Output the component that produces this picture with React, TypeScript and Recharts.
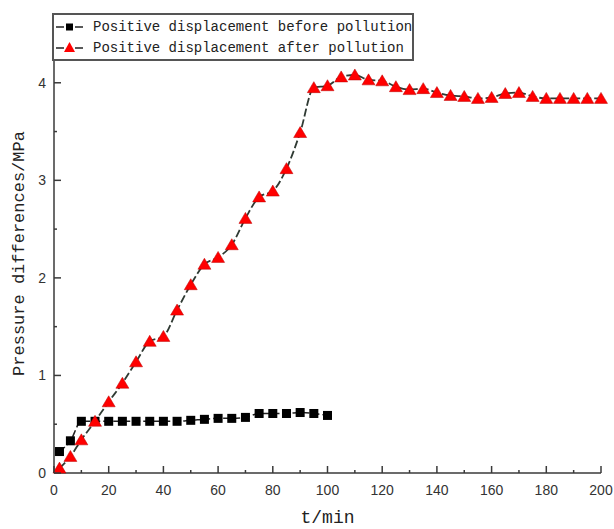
import { LineChart, Line, XAxis, YAxis, Legend } from "recharts";

const beforeTimes = [2, 6, 10, 15, 20, 25, 30, 35, 40, 45, 50, 55, 60, 65, 70, 75, 80, 85, 90, 95, 100];
const beforeValues = [0.22, 0.33, 0.53, 0.53, 0.53, 0.53, 0.53, 0.53, 0.53, 0.53, 0.54, 0.55, 0.56, 0.56, 0.57, 0.61, 0.61, 0.61, 0.62, 0.61, 0.59];

const afterTimes = [
  2, 6, 10, 15, 20, 25, 30, 35, 40, 45, 50, 55, 60, 65, 70, 75, 80, 85, 90, 95, 100,
  105, 110, 115, 120, 125, 130, 135, 140, 145, 150, 155, 160, 165, 170, 175, 180, 185, 190, 195, 200,
];
const afterValues = [
  0.05, 0.17, 0.34, 0.53, 0.73, 0.92, 1.14, 1.35, 1.4, 1.67, 1.93, 2.14, 2.21, 2.34, 2.61, 2.83, 2.89, 3.12, 3.49, 3.95, 3.97,
  4.06, 4.08, 4.03, 4.02, 3.96, 3.93, 3.94, 3.9, 3.87, 3.86, 3.84, 3.85, 3.89, 3.9, 3.86, 3.84, 3.84, 3.84, 3.84, 3.84,
];

const xTicks = [0, 10, 20, 30, 40, 50, 60, 70, 80, 90, 100, 110, 120, 130, 140, 150, 160, 170, 180, 190, 200];
const yTicks = [0, 0.5, 1, 1.5, 2, 2.5, 3, 3.5, 4];

const beforeLabel = "Positive displacement before pollution";
const afterLabel = "Positive displacement after pollution";

const beforeData = beforeTimes.map((t, i) => ({ t, v: beforeValues[i] }));
const afterData = afterTimes.map((t, i) => ({ t, v: afterValues[i] }));

const axisColor = "#3a3a3a";
const tickFont = "'Liberation Sans', Arial, sans-serif";
const monoFont = "'Liberation Mono', 'DejaVu Sans Mono', monospace";

function XTick(props: any) {
  const { x, y, payload } = props;
  const major = payload.value % 20 === 0;
  return (
    <g>
      <line x1={x} x2={x} y1={y} y2={y - (major ? 7 : 3)} stroke={axisColor} strokeWidth={1.5} />
      {major && (
        <text x={x} y={y + 22} textAnchor="middle" fontSize={14} fontFamily={tickFont} fill="#333">
          {payload.value}
        </text>
      )}
    </g>
  );
}

function YTick(props: any) {
  const { x, y, payload } = props;
  const major = payload.value % 1 === 0;
  return (
    <g>
      <line x1={x} x2={x + (major ? 7 : 3)} y1={y} y2={y} stroke={axisColor} strokeWidth={1.5} />
      {major && (
        <text x={x - 8} y={y + 5} textAnchor="end" fontSize={14} fontFamily={tickFont} fill="#333">
          {payload.value}
        </text>
      )}
    </g>
  );
}

function Square(props: any) {
  const { cx, cy } = props;
  if (cx == null || cy == null) return null;
  return <rect x={cx - 4.5} y={cy - 4.5} width={9} height={9} fill="#000" />;
}

function Triangle(props: any) {
  const { cx, cy } = props;
  if (cx == null || cy == null) return null;
  return <path d={`M${cx},${cy - 6} L${cx + 6.5},${cy + 5} L${cx - 6.5},${cy + 5} Z`} fill="#f00" stroke="#b00" strokeWidth={0.5} />;
}

function LegendBox() {
  const rows = [
    { label: beforeLabel, marker: "square" },
    { label: afterLabel, marker: "triangle" },
  ];
  return (
    <div
      style={{
        width: 362,
        height: 48,
        border: "2px solid #555",
        boxSizing: "border-box",
        background: "#fff",
        position: "relative",
      }}
    >
      {rows.map((r, i) => (
        <div key={i} style={{ position: "absolute", left: 1, top: 2 + i * 21, height: 20, width: 358 }}>
          <svg width={32} height={20} style={{ position: "absolute", left: 0, top: 0 }}>
            <line x1={1} x2={9} y1={10} y2={10} stroke="#222" strokeWidth={1.5} />
            <line x1={20} x2={28} y1={10} y2={10} stroke="#222" strokeWidth={1.5} />
            {r.marker === "square" ? (
              <rect x={11} y={6.5} width={7} height={7} fill="#000" />
            ) : (
              <path d="M14.5,4 L20,14 L9,14 Z" fill="#f00" />
            )}
          </svg>
          <span
            style={{
              position: "absolute",
              left: 38,
              top: 1,
              fontFamily: monoFont,
              fontSize: 14,
              lineHeight: "18px",
              color: "#222",
              whiteSpace: "nowrap",
            }}
          >
            {r.label}
          </span>
        </div>
      ))}
    </div>
  );
}

export default function App() {
  return (
    <div style={{ position: "absolute", left: 0, top: 0, width: 614, height: 529, background: "#fff" }}>
      <LineChart width={614} height={529} margin={{ top: 34, right: 13, bottom: 0, left: 0 }}>
        <XAxis
          dataKey="t"
          type="number"
          domain={[0, 200]}
          ticks={xTicks}
          interval={0}
          tickSize={0}
          tickMargin={0}
          tickLine={false}
          tick={<XTick />}
          axisLine={{ stroke: axisColor, strokeWidth: 1.5 }}
          height={56}
          allowDuplicatedCategory={false}
          label={{ value: "t/min", position: "insideBottom", offset: 6, fontSize: 18, fontFamily: monoFont, fill: "#222" }}
        />
        <YAxis
          type="number"
          domain={[0, 4.5]}
          ticks={yTicks}
          interval={0}
          tickSize={0}
          tickMargin={0}
          tickLine={false}
          tick={<YTick />}
          axisLine={{ stroke: axisColor, strokeWidth: 1.5 }}
          width={54}
          label={{
            value: "Pressure differences/MPa",
            angle: -90,
            position: "insideLeft",
            offset: 18,
            fontSize: 17,
            fontFamily: monoFont,
            fill: "#222",
            style: { textAnchor: "middle" },
          }}
        />
        <Legend
          layout="horizontal"
          verticalAlign="middle"
          align="center"
          content={<LegendBox />}
          wrapperStyle={{ position: "absolute", left: 52, top: 13, width: 362 }}
        />
        <Line
          data={beforeData}
          dataKey="v"
          name={beforeLabel}
          type="monotone"
          stroke="#222"
          strokeWidth={1.5}
          strokeDasharray="7 3"
          dot={<Square />}
          isAnimationActive={false}
        />
        <Line
          data={afterData}
          dataKey="v"
          name={afterLabel}
          type="monotone"
          stroke="#2f3a33"
          strokeWidth={1.8}
          strokeDasharray="8 3"
          dot={<Triangle />}
          isAnimationActive={false}
        />
      </LineChart>
    </div>
  );
}
